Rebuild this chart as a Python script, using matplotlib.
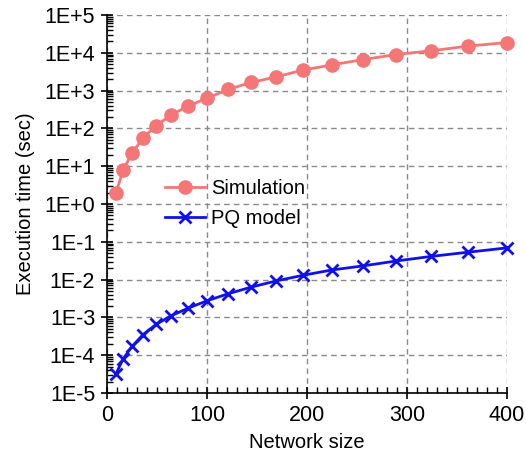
import math
import matplotlib
matplotlib.use("Agg")
import matplotlib.pyplot as plt
from matplotlib.ticker import MultipleLocator, LogLocator, FuncFormatter, NullFormatter

plt.rcParams['font.family'] = ['Liberation Sans', 'DejaVu Sans']

# network sizes (square grids 3x3 .. 20x20)
network_size = [9, 16, 25, 36, 49, 64, 81, 100, 121, 144, 169, 196, 225, 256, 289, 324, 361, 400]
sim_time = [1.95, 7.8, 22, 56, 118, 224, 390, 630, 1070, 1640, 2290, 3500,
            4800, 6600, 9000, 11300, 15000, 18700]
pq_time = [3.2e-5, 7.9e-5, 1.7e-4, 3.5e-4, 6.5e-4, 1.1e-3, 1.75e-3, 2.75e-3, 4.2e-3,
           6.3e-3, 9.2e-3, 1.3e-2, 1.8e-2, 2.3e-2, 3.1e-2, 4.1e-2, 5.3e-2, 6.9e-2]


def exp_label(v, pos):
    return '1E{:+d}'.format(int(round(math.log10(v))))


fig = plt.figure(figsize=(5.26, 4.54), dpi=100)
ax = fig.add_axes([0.2034, 0.1344, 0.7606, 0.8326])

ax.plot(network_size, sim_time, color='#F47676', marker='o', markersize=9.5,
        linewidth=2, label='Simulation', clip_on=False, zorder=3)
ax.plot(network_size, pq_time, color='#1010E8', marker='x', markersize=9,
        markeredgewidth=2, linewidth=2, label='PQ model', clip_on=False, zorder=3)

ax.set_yscale('log')
ax.set_xlim(0, 400)
ax.set_ylim(1e-5, 1e5)

ax.xaxis.set_major_locator(MultipleLocator(100))
ax.xaxis.set_minor_locator(MultipleLocator(10))
ax.yaxis.set_major_locator(LogLocator(base=10, numticks=20))
ax.yaxis.set_minor_locator(LogLocator(base=10, subs=range(2, 10), numticks=20))
ax.yaxis.set_minor_formatter(NullFormatter())
ax.yaxis.set_major_formatter(FuncFormatter(exp_label))

ax.tick_params(which='major', direction='inout', length=9, width=1.2, labelsize=15.5, pad=4)
ax.tick_params(which='minor', direction='in', length=4, width=1)
ax.tick_params(top=False, right=False)

for side in ['top', 'right']:
    ax.spines[side].set_visible(False)
for side in ['left', 'bottom']:
    ax.spines[side].set_linewidth(1.2)

ax.grid(True, which='major', color='#8a8a8a', linestyle=(0, (4, 3)), linewidth=1)

ax.set_xlabel('Network size', fontsize=14.5, labelpad=5)
ax.set_ylabel('Execution time (sec)', fontsize=14.5, labelpad=7)

ax.legend(loc='upper left', bbox_to_anchor=(0.1, 0.615), frameon=False, fontsize=14.5,
          handlelength=2.0, handletextpad=0.3, labelspacing=0.55)

fig.savefig('out.png', dpi=100, facecolor='white')
